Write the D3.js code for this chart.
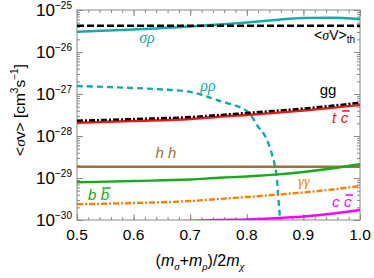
<!DOCTYPE html>
<html>
<head>
<meta charset="utf-8">
<script src="https://cdn.jsdelivr.net/npm/d3@7"></script>
<style>
  body { margin: 0; background: #fff; }
  svg { font-family: "Liberation Sans", Arial, sans-serif; }
</style>
</head>
<body>
<div id="chart"></div>
<script>
// x = (m_sigma + m_rho) / 2 m_chi
const massRatio = [0.5, 0.6, 0.7, 0.75, 0.8, 0.85, 0.9, 0.95, 1.0]
const thermal = 4.2e-26
const sigmaRho = [3.04e-26, 3.44e-26, 4.05e-26, 4.52e-26, 5.04e-26, 5.78e-26, 6.46e-26, 6.52e-26, 6.11e-26]
const gg = [2.31e-28, 2.54e-28, 2.83e-28, 3.16e-28, 3.53e-28, 3.98e-28, 4.52e-28, 5.25e-28, 6.21e-28]
const tc = [2.07e-28, 2.28e-28, 2.54e-28, 2.88e-28, 3.16e-28, 3.55e-28, 4.05e-28, 4.68e-28, 5.47e-28]
const hh = 1.86e-29
const bb = [7.91e-30, 8.49e-30, 9.2e-30, 1.01e-29, 1.09e-29, 1.2e-29, 1.39e-29, 1.68e-29, 2.12e-29]
const gamgam = [2.37e-30, 2.54e-30, 2.83e-30, 3.16e-30, 3.53e-30, 3.98e-30, 4.52e-30, 5.31e-30, 6.46e-30]
const cc = [8.0e-31, 8.7e-31, 9.5e-31, 1.0e-30, 1.03e-30, 1.1e-30, 1.21e-30, 1.41e-30, 1.73e-30]
// rho rho closes near threshold
const rhoRhoX = [0.5, 0.6, 0.65, 0.7, 0.75, 0.8, 0.82, 0.833, 0.85, 0.856, 0.8587, 0.8595]
const rhoRho = [1.55e-27, 1.39e-27, 1.28e-27, 1.12e-27, 7.0e-28, 3.94e-28, 1.66e-28, 9.6e-29, 1.86e-29, 2.99e-30, 1.0e-30, 3e-31]

const xMajor = [0.5, 0.6, 0.7, 0.8, 0.9, 1.0]
const yDecades = [-30, -29, -28, -27, -26, -25]

const dims = { width: 374, height: 278, margin: { top: 10, right: 14, bottom: 58, left: 77 } }
const x0 = dims.margin.left, x1 = dims.width - dims.margin.right
const y0 = dims.height - dims.margin.bottom, y1 = dims.margin.top

const svg = d3.select('#chart').append('svg')
  .attr('width', dims.width).attr('height', dims.height)

const x = d3.scaleLinear().domain([0.5, 1.0]).range([x0, x1])
const y = d3.scaleLog().domain([1e-30, 1e-25]).range([y0, y1])

svg.append('clipPath').attr('id', 'clip')
  .append('rect').attr('x', x0).attr('y', y1).attr('width', x1 - x0).attr('height', y0 - y1)

// ticks
const xMinor = d3.range(0.5, 1.0001, 0.02).map(d => +d.toFixed(2))
const yMinor = []
yDecades.slice(0, -1).forEach(e => { for (let k = 2; k <= 9; k++) yMinor.push(k * Math.pow(10, e)) })
const yMajor = yDecades.map(e => Math.pow(10, e))

function tickAxis(axis, pos, size, vals) {
  const g = svg.append('g').attr('transform', pos)
    .call(axis.tickValues(vals).tickSize(size).tickFormat(''))
  g.select('.domain').remove()
  g.selectAll('line').attr('stroke', '#888')
  return g
}
tickAxis(d3.axisBottom(x), `translate(0,${y0})`, -3, xMinor)
tickAxis(d3.axisBottom(x), `translate(0,${y0})`, -6, xMajor)
tickAxis(d3.axisTop(x), `translate(0,${y1})`, -3, xMinor)
tickAxis(d3.axisTop(x), `translate(0,${y1})`, -6, xMajor)
tickAxis(d3.axisLeft(y), `translate(${x0},0)`, -3, yMinor)
tickAxis(d3.axisLeft(y), `translate(${x0},0)`, -6, yMajor)
tickAxis(d3.axisRight(y), `translate(${x1},0)`, -3, yMinor)
tickAxis(d3.axisRight(y), `translate(${x1},0)`, -6, yMajor)

svg.append('rect').attr('x', x0).attr('y', y1).attr('width', x1 - x0).attr('height', y0 - y1)
  .attr('fill', 'none').attr('stroke', '#888').attr('stroke-width', 1)

// tick labels
svg.append('g').selectAll('text').data(xMajor).join('text')
  .attr('x', d => x(d)).attr('y', y0 + 20)
  .attr('text-anchor', 'middle').attr('font-size', 15.5)
  .text(d => d.toFixed(1))

const yl = svg.append('g').selectAll('text').data(yDecades).join('text')
  .attr('x', x0 - 5).attr('y', d => y(Math.pow(10, d)) + 6)
  .attr('text-anchor', 'end').attr('font-size', 17)
yl.append('tspan').text('10')
yl.append('tspan').attr('font-size', 10).attr('dy', -7).text(d => '\u2212' + (-d))

// axis titles
svg.append('text').attr('x', 200).attr('y', 266).attr('text-anchor', 'middle').attr('font-size', 16)
  .html('(<tspan font-style="italic">m</tspan><tspan font-size="11" dy="4" font-family="Liberation Serif" font-style="italic">σ</tspan><tspan dy="-4">+</tspan><tspan font-style="italic">m</tspan><tspan font-size="11" dy="4" font-family="Liberation Serif" font-style="italic">ρ</tspan><tspan dy="-4">)/2</tspan><tspan font-style="italic">m</tspan><tspan font-size="11" dy="4" font-family="Liberation Serif" font-style="italic">χ</tspan>')

svg.append('text').attr('transform', 'translate(25,110) rotate(-90)')
  .attr('text-anchor', 'middle').attr('font-size', 15.5)
  .html('&lt;<tspan font-family="Liberation Serif" font-style="italic">σ</tspan>v&gt; [cm<tspan font-size="10" dy="-7">3</tspan><tspan dy="7">s</tspan><tspan font-size="10" dy="-7">−1</tspan><tspan dy="7">]</tspan>')

// curves
const plot = svg.append('g').attr('clip-path', 'url(#clip)')
const line = d3.line().x(d => x(d[0])).y(d => y(d[1]))

const series = [
  { xs: massRatio, ys: sigmaRho, color: '#14aaaa', dash: null },
  { xs: [0.5, 1.0], ys: [thermal, thermal], color: '#000', dash: '7,3' },
  { xs: rhoRhoX, ys: rhoRho, color: '#14aaaa', dash: '6,4' },
  { xs: massRatio, ys: tc, color: '#f01414', dash: null },
  { xs: massRatio, ys: gg, color: '#000', dash: '6,2,2,2' },
  { xs: [0.5, 1.0], ys: [hh, hh], color: '#a0703c', dash: null },
  { xs: massRatio, ys: bb, color: '#18aa18', dash: null },
  { xs: massRatio, ys: gamgam, color: '#ff7f00', dash: '6,2,2,2' },
  { xs: massRatio, ys: cc, color: '#ff00ff', dash: null },
]
series.forEach(s => {
  const pts = s.xs.map((v, i) => [v, s.ys[i]])
  const curve = s.xs === rhoRhoX ? d3.curveCatmullRom : d3.curveMonotoneX
  plot.append('path')
    .attr('d', line.curve(curve)(pts))
    .attr('fill', 'none').attr('stroke', s.color).attr('stroke-width', 2.4)
    .attr('stroke-dasharray', s.dash)
})

// series labels
function label(px, py, color, html, opts = {}) {
  const size = opts.size || 14
  return svg.append('text').attr('x', px).attr('y', py).attr('fill', color)
    .attr('font-size', size).attr('text-anchor', opts.anchor || 'middle')
    .attr('font-family', opts.family || null).attr('font-style', opts.style || null)
    .html(html)
}
// particle / antiparticle pair, e.g. "t c" with a bar over the second letter
function pairLabel(px, py, color, a, b, size = 15) {
  const g = svg.append('g').attr('fill', color).attr('font-size', size).attr('font-style', 'italic')
  const ta = g.append('text').attr('x', px).attr('y', py).text(a)
  const wa = ta.node().getComputedTextLength()
  const bx = px + wa + size * 0.3
  const tb = g.append('text').attr('x', bx).attr('y', py).text(b)
  const wb = tb.node().getComputedTextLength()
  const by = py - size * 0.8
  g.append('rect').attr('x', bx + 1.5).attr('y', by - 0.75)
    .attr('width', wb).attr('height', 1.5)
}
label(147, 43, '#14aaaa', 'σρ', { family: 'Liberation Serif', style: 'italic', size: 16 })
label(208, 91, '#14aaaa', 'ρρ', { family: 'Liberation Serif', style: 'italic', size: 16 })
label(355, 40, '#000', '&lt;<tspan font-family="Liberation Serif" font-style="italic">σ</tspan>V&gt;<tspan font-size="10" dy="3">th</tspan>', { anchor: 'end', size: 14 })
label(328, 95, '#000', 'gg', { size: 15 })
pairLabel(332, 123, '#f01414', 't', 'c')
label(166, 158, '#a0703c', '<tspan font-style="italic">h</tspan> <tspan font-style="italic">h</tspan>', { size: 15 })
pairLabel(88, 200, '#18aa18', 'b', 'b')
label(304, 186, '#ff7f00', 'γγ', { family: 'Liberation Serif', style: 'italic', size: 15 })
pairLabel(332, 207, '#ff00ff', 'c', 'c')
</script>
</body>
</html>
